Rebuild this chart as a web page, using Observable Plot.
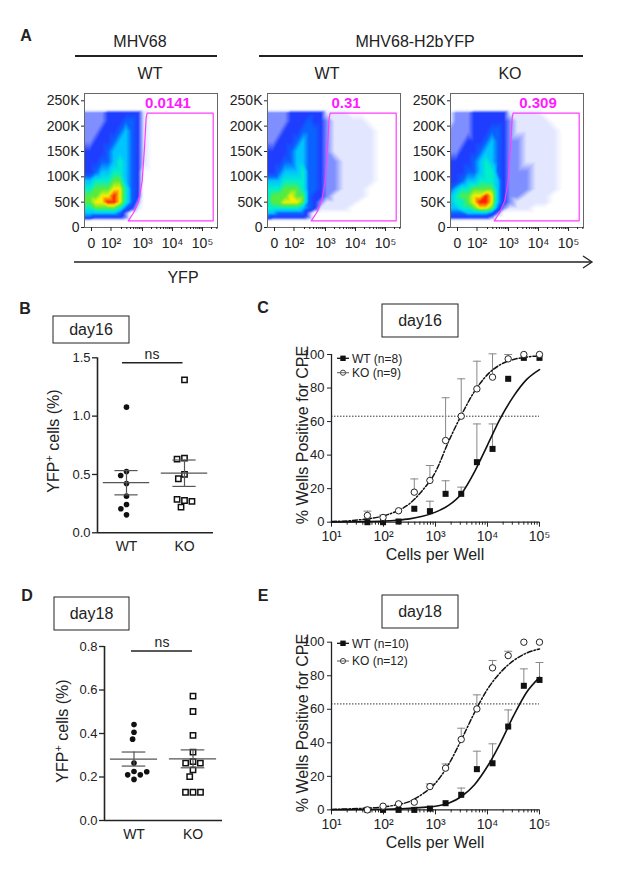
<!DOCTYPE html>
<html>
<head>
<meta charset="utf-8">
<script src="https://cdn.jsdelivr.net/npm/d3@7"></script>
<script src="https://cdn.jsdelivr.net/npm/@observablehq/plot@0.6"></script>
<style>
  body { margin: 0; background: #fff; }
  #fig { position: relative; width: 620px; height: 875px; overflow: hidden; background: #fff;
         font-family: "Liberation Sans", Arial, Helvetica, sans-serif; color: #222; }
</style>
</head>
<body>
<div id="fig"></div>
<script>
// ===================== DATA =====================
// Panel A – flow cytometry (x: YFP display decades, y: thousands), density level per grid node (0-9)
const flowCols = [1.07, 1.25, 1.45, 1.65, 1.85, 2.05, 2.25, 2.45, 2.65, 2.85, 3.05, 3.3, 3.6, 3.9, 4.2, 4.5, 4.8, 5.1, 5.5];
const flowRows = [264, 234, 226, 210, 190, 170, 150, 130, 110, 92, 76, 62, 50, 38, 28, 20, 12, 0];
const flowPanels = ["MHV68 WT", "MHV68-H2bYFP WT", "MHV68-H2bYFP KO"];
const densityMHV68WT = [
  "0000000000000000000",
  "0000000000000000000",
  "2222333333100000000",
  "2222333443100000000",
  "2223334543100000000",
  "2233345543100000000",
  "3333455543100000000",
  "3334456543100000000",
  "3345566543000000000",
  "5566677543000000000",
  "6677788643000000000",
  "7778898643000000000",
  "7788998642000000000",
  "6677776431000000000",
  "5555554200000000000",
  "4433333200000000000",
  "0000000000000000000",
  "0000000000000000000"
];
const densityYFPWT = [
  "0000000000000000000",
  "0000000000000000000",
  "2222333333111000000",
  "2222333433211110000",
  "2223334443211111000",
  "2233345443211111000",
  "3333455443211111000",
  "3334455443221111000",
  "3345556443221111000",
  "5556666443221111000",
  "6667776443221110000",
  "6777877433211110000",
  "6778887432111100000",
  "6666665431111000000",
  "5544444200000000000",
  "4333333200000000000",
  "0000000000000000000",
  "0000000000000000000"
];
const densityYFPKO = [
  "0000000000000000000",
  "0000000000000000000",
  "1222333333111100000",
  "1222333333211110000",
  "2222333443211111000",
  "2223334543221111000",
  "2233345543221111000",
  "3333456543221111000",
  "3334456643222111000",
  "3345566653222111000",
  "4566777753222111000",
  "5677889853221110000",
  "5667899853211110000",
  "5566788742111000000",
  "4445555420000000000",
  "3333333200000000000",
  "0000000000000000000",
  "0000000000000000000"
];
const gatePercent = ["0.0141", "0.31", "0.309"];
const gateX = [3.157, 5.357, 5.357, 2.523, 2.71, 2.877, 2.99, 3.067, 3.123, 3.157];
const gateY = [225.7, 225.7, 13.2, 13.2, 29.6, 52.7, 92.1, 157.9, 217, 225.7];
const flowXTicks = [1.3, 1.95, 3, 4, 5];
const flowXTickLabels = ["0", "10²", "10³", "10⁴", "10⁵"];
const flowYTicks = [0, 50, 100, 150, 200, 250];

// Panels B & D – YFP+ cells (%)
const groups = ["WT", "KO"];
const day16YFP_WT = [1.077, 0.526, 0.491, 0.423, 0.314, 0.243, 0.206, 0.154];
const day16YFP_KO = [1.311, 0.64, 0.631, 0.5, 0.463, 0.277, 0.286, 0.269, 0.22];
const day18YFP_WT = [0.441, 0.406, 0.374, 0.264, 0.225, 0.21, 0.189, 0.21, 0.224];
const day18YFP_KO = [0.572, 0.501, 0.391, 0.314, 0.271, 0.264, 0.264, 0.233, 0.202, 0.13, 0.13, 0.13];
const day16YTicks = [0, 0.5, 1.0, 1.5];
const day18YTicks = [0, 0.2, 0.4, 0.6, 0.8];

// Panels C & E – limiting dilution (% wells positive for CPE)
const cellsPerWell = [49, 98, 195, 391, 781, 1563, 3125, 6250, 12500, 25000, 50000, 100000];
const day16WT    = [0, 0, 0.4, 8.0, 6.6, 16.9, 16.9, 35.8, 43.7, 85.5, 98, 98];
const day16WTErr = [null, null, null, null, 12.5, 24.7, 20.9, 58.6, 58.6, null, null, null];
const day16KO    = [4.0, 2.8, 6.8, 17.9, 24.9, 48.7, 63.2, 79.5, 86.5, 97.4, 100, 100];
const day16KOErr = [6.6, 4.2, null, 25.8, 33.8, 74.2, 85.5, 96, 100.4, 100, null, null];
const day18WT    = [0, 0, 0, 0, 0.8, 4, 9, 24.3, 27.8, 49.7, 74, 77.5];
const day18WTErr = [null, null, null, null, null, null, 13, 35, 39.4, 59.6, 84.1, 87.9];
const day18KO    = [0, 2.2, 3.6, 4.6, 13.9, 24.9, 42, 60.2, 84.7, 92, 100, 100];
const day18KOErr = [null, null, null, null, 15.5, 27.4, 48.7, 68.6, 89.1, 94.6, null, null];
// fitted curves (x as log10 cells per well)
const fitLog10Cells = [1, 1.5, 2, 2.25, 2.5, 2.75, 3, 3.25, 3.5, 3.75, 4, 4.25, 4.5, 4.75, 5];
const fitDay16WT = [0.1, 0.3, 0.7, 1.2, 2, 3.5, 6, 10, 17, 30, 46, 62, 75, 85, 91];
const fitDay16KO = [0.4, 1.3, 3.8, 6.5, 11, 19, 30, 48, 64, 78, 88, 94, 97, 98.5, 99.2];
const fitDay18WT = [0.1, 0.2, 0.4, 0.6, 1, 1.5, 2.2, 4, 8, 15, 26, 40, 56, 70, 79];
const fitDay18KO = [0.3, 0.8, 1.8, 3, 5, 9.5, 16, 27, 42, 58, 72, 82, 89, 93.5, 96];
const poissonLine = [63.2];
const cpeXTicks = [10, 100, 1000, 10000, 100000];
const cpeXTickLabels = ["10¹", "10²", "10³", "10⁴", "10⁵"];
const cpeYTicks = [0, 20, 40, 60, 80, 100];
const legendDay16 = ["WT (n=8)", "KO (n=9)"];
const legendDay18 = ["WT (n=10)", "KO (n=12)"];

// ===================== DRAWING =====================
const FONT = '"Liberation Sans", Arial, Helvetica, sans-serif';
const INK = "#222";
const fig = document.getElementById("fig");
function place(el, left, top) {
  el.style.position = "absolute";
  el.style.left = left + "px";
  el.style.top = top + "px";
  fig.appendChild(el);
}
const baseStyle = {fontFamily: FONT, color: INK, background: "transparent", overflow: "visible"};

// ---- Panel A: flow plots ----
const flowPalette = ["#ffffff", "#e2e6ff", "#7f8fff", "#1f3dff", "#0a62ff", "#00c4ff", "#00eecc", "#55ec40", "#f6f000", "#ff2200"];
const flowLevels = d3.range(10);
const flowXLabel = new Map(flowXTicks.map((t, i) => [t, flowXTickLabels[i]]));
const flowMinor = [];
for (const d of [2, 3, 4, 5]) for (let k = 2; k <= 9; k++) { const u = d + Math.log10(k); if (u < 5.5) flowMinor.push(u); }
const gate = gateX.map((u, i) => ({u, y: gateY[i]}));

function flowPlot(grid, pct, labelDx) {
  const pts = [];
  grid.forEach((row, i) => [...row].forEach((ch, j) => pts.push({u: flowCols[j], y: flowRows[i], v: +ch})));
  return Plot.plot({
    width: 201, height: 174,
    marginLeft: 54, marginRight: 14, marginTop: 10, marginBottom: 30,
    x: {domain: [1.067, 5.5], axis: null},
    y: {domain: [0, 264.4], axis: null},
    color: {type: "linear", domain: flowLevels, range: flowPalette, interpolate: "rgb"},
    style: baseStyle,
    marks: [
      Plot.raster(pts, {x: "u", y: "y", fill: "v", interpolate: "barycentric", pixelSize: 1}),
      Plot.line(gate, {x: "u", y: "y", stroke: "#ff3cff", strokeWidth: 1.2}),
      Plot.frame({stroke: "#666"}),
      Plot.axisY({ticks: flowYTicks, tickFormat: d => d === 0 ? "0" : d + "K", tickSize: 3, tickPadding: 2, fontSize: 14, label: null}),
      Plot.axisX({ticks: flowXTicks, tickFormat: d => flowXLabel.get(d), tickSize: 4, tickPadding: 7, fontSize: 14, label: null}),
      Plot.axisX({ticks: flowMinor, tickFormat: () => "", tickSize: 2, label: null}),
      Plot.text([pct], {frameAnchor: "top", dx: labelDx, dy: 4, fill: "#ff1aff", fontWeight: "bold", fontSize: 15})
    ]
  });
}
const flowGrids = [densityMHV68WT, densityYFPWT, densityYFPKO];
const flowFrameLeft = [84, 267, 450];
const flowLabelDx = [17, 12, 21];
flowPanels.forEach((name, i) => {
  place(flowPlot(flowGrids[i], gatePercent[i], flowLabelDx[i]), flowFrameLeft[i] - 54, 83);
});

// ---- Panels B & D: scatter with mean ± SEM ----
function dotPlot(wt, ko, yMax, yTicks, dims) {
  const data = [...wt.map(v => ({group: "WT", v})), ...ko.map(v => ({group: "KO", v}))];
  const stats = groups.map(g => {
    const vs = data.filter(d => d.group === g).map(d => d.v);
    const m = d3.mean(vs), se = d3.deviation(vs) / Math.sqrt(vs.length);
    return {group: g, mean: m, lo: m - se, hi: m + se};
  });
  return Plot.plot({
    width: dims.width, height: dims.height,
    marginLeft: dims.ml, marginRight: 10, marginTop: dims.mt, marginBottom: 30,
    fx: {domain: groups, padding: 0},
    x: {domain: [-1, 1], axis: null},
    y: {domain: [0, yMax], axis: null},
    style: baseStyle,
    marks: [
      Plot.ruleY([0], {stroke: INK, strokeWidth: 1.6}),
      Plot.ruleX([-1], {y1: 0, y2: yMax, stroke: INK, strokeWidth: 1.6, facetAnchor: "left"}),
      Plot.axisY({ticks: yTicks, tickFormat: ".1f", tickSize: 5, tickPadding: 2, fontSize: 13, strokeWidth: 1.3, label: null}),
      Plot.axisFx({anchor: "bottom", tickSize: 0, tickPadding: dims.fxPad, fontSize: 14, label: null}),
      Plot.dot(data.filter(d => d.group === "WT"),
        Plot.dodgeX({anchor: "middle", padding: 1.5}, {fx: "group", y: "v", r: 2.8, fill: "#111", symbol: "circle"})),
      Plot.dot(data.filter(d => d.group === "KO"),
        Plot.dodgeX({anchor: "middle", padding: 1.5}, {fx: "group", y: "v", r: 3, symbol: "square", fill: "white", stroke: "#111", strokeWidth: 1.5})),
      Plot.ruleY(stats, {fx: "group", y: "mean", x1: -0.8, x2: 0.8, stroke: "#555", strokeWidth: 1.2}),
      Plot.ruleY(stats, {fx: "group", y: "lo", x1: -0.4, x2: 0.4, stroke: "#555", strokeWidth: 1.2}),
      Plot.ruleY(stats, {fx: "group", y: "hi", x1: -0.4, x2: 0.4, stroke: "#555", strokeWidth: 1.2}),
      Plot.ruleX(stats, {fx: "group", x: 0, y1: "lo", y2: "hi", stroke: "#555", strokeWidth: 1.2})
    ]
  });
}
place(dotPlot(day16YFP_WT, day16YFP_KO, 1.5, day16YTicks, {width: 183, height: 217.3, ml: 56, mt: 12.3, fxPad: 8}), 40, 345);
place(dotPlot(day18YFP_WT, day18YFP_KO, 0.8, day18YTicks, {width: 192, height: 214, ml: 64, mt: 10, fxPad: 9}), 40, 636);

// ---- Panels C & E: limiting dilution ----
const capSymbol = {draw(ctx, size) { const w = Math.sqrt(size / Math.PI); ctx.moveTo(-w, 0); ctx.lineTo(w, 0); }};
const cpeXLabel = new Map(cpeXTicks.map((t, i) => [t, cpeXTickLabels[i]]));
const cpeMinor = [];
for (const p of [10, 100, 1000, 10000]) for (let k = 2; k <= 9; k++) cpeMinor.push(k * p);

function cpePlot(wt, wtErr, ko, koErr, fitWT, fitKO, mt) {
  const wtRows = cellsPerWell.map((c, i) => ({c, y: wt[i], e: wtErr[i]}));
  const koRows = cellsPerWell.map((c, i) => ({c, y: ko[i], e: koErr[i]}));
  const wtE = wtRows.filter(d => d.e != null), koE = koRows.filter(d => d.e != null);
  const fW = fitLog10Cells.map((l, i) => ({c: 10 ** l, y: fitWT[i]}));
  const fK = fitLog10Cells.map((l, i) => ({c: 10 ** l, y: fitKO[i]}));
  return Plot.plot({
    width: 259, height: mt + 167.7 + 25,
    marginLeft: 31, marginRight: 20, marginTop: mt, marginBottom: 25,
    x: {type: "log", domain: [10, 100000], axis: null},
    y: {domain: [0, 100], axis: null},
    style: baseStyle,
    marks: [
      Plot.ruleY(poissonLine, {stroke: "#333", strokeWidth: 1, strokeDasharray: "1.5,1.5"}),
      Plot.ruleX([10], {y1: 0, y2: 100, stroke: INK, strokeWidth: 1.3}),
      Plot.ruleY([0], {stroke: INK, strokeWidth: 1.3}),
      Plot.axisY({ticks: cpeYTicks, tickSize: 4, tickPadding: 3, fontSize: 13, label: null}),
      Plot.axisX({ticks: cpeXTicks, tickFormat: d => cpeXLabel.get(d), tickSize: 5, tickPadding: 4, fontSize: 14, label: null}),
      Plot.axisX({ticks: cpeMinor, tickFormat: () => "", tickSize: 3, label: null}),
      Plot.ruleX(wtE, {x: "c", y1: "y", y2: "e", stroke: "#888", strokeWidth: 1}),
      Plot.dot(wtE, {x: "c", y: "e", symbol: capSymbol, r: 4, fill: "none", stroke: "#888", strokeWidth: 1}),
      Plot.ruleX(koE, {x: "c", y1: "y", y2: "e", stroke: "#888", strokeWidth: 1}),
      Plot.dot(koE, {x: "c", y: "e", symbol: capSymbol, r: 4, fill: "none", stroke: "#888", strokeWidth: 1}),
      Plot.line(fW, {x: "c", y: "y", curve: "monotone-x", stroke: "#111", strokeWidth: 1.6}),
      Plot.line(fK, {x: "c", y: "y", curve: "monotone-x", stroke: "#111", strokeWidth: 1.5, strokeDasharray: "5,2,1.5,2"}),
      Plot.dot(wtRows, {x: "c", y: "y", symbol: "square", r: 3.4, fill: "#111"}),
      Plot.dot(koRows, {x: "c", y: "y", r: 3.2, fill: "white", stroke: "#222", strokeWidth: 1})
    ]
  });
}
place(cpePlot(day16WT, day16WTErr, day16KO, day16KOErr, fitDay16WT, fitDay16KO, 14), 300, 340);
place(cpePlot(day18WT, day18WTErr, day18KO, day18KOErr, fitDay18WT, fitDay18KO, 13.7), 300, 628);

// ---- annotations overlay ----
function legend(x, y1, y2, labels) {
  return `
  <line x1="${x - 6}" x2="${x + 6}" y1="${y1}" y2="${y1}" stroke="#111" stroke-width="1.3"/>
  <rect x="${x - 2.7}" y="${y1 - 2.7}" width="5.4" height="5.4" fill="#111"/>
  <text x="${x + 9}" y="${y1 + 4.3}" font-size="12">${labels[0]}</text>
  <line x1="${x - 6}" x2="${x + 6}" y1="${y2}" y2="${y2}" stroke="#666" stroke-width="1.1"/>
  <circle cx="${x}" cy="${y2}" r="2.6" fill="white" stroke="#444" stroke-width="1"/>
  <line x1="${x - 2}" x2="${x + 2}" y1="${y2}" y2="${y2}" stroke="#666" stroke-width="1"/>
  <text x="${x + 9}" y="${y2 + 4.3}" font-size="12">${labels[1]}</text>`;
}
function yfpTitle(cx, cy) {
  return `<text transform="translate(${cx},${cy}) rotate(-90)" text-anchor="middle" dy="0.36em" font-size="16">YFP<tspan dy="-6" font-size="11">+</tspan><tspan dy="6"> cells (%)</tspan></text>`;
}
function cpeTitle(cx, cy) {
  return `<text transform="translate(${cx},${cy}) rotate(-90)" text-anchor="middle" dy="0.36em" font-size="16">% Wells Positive for CPE</text>`;
}
fig.insertAdjacentHTML("beforeend", `
<svg width="620" height="875" style="position:absolute;left:0;top:0;pointer-events:none;font-family:${FONT.replace(/"/g, "'")}" fill="${INK}">
  <g font-weight="bold" font-size="16">
    <text x="26" y="41" text-anchor="middle">A</text>
    <text x="25" y="314" text-anchor="middle">B</text>
    <text x="263" y="313" text-anchor="middle">C</text>
    <text x="27" y="601" text-anchor="middle">D</text>
    <text x="263" y="601" text-anchor="middle">E</text>
  </g>
  <g font-size="16" text-anchor="middle">
    <text x="140" y="47">MHV68</text>
    <text x="415" y="47">MHV68-H2bYFP</text>
    <text x="150" y="79">WT</text>
    <text x="327" y="79">WT</text>
    <text x="510" y="79">KO</text>
    <text x="183" y="283">YFP</text>
  </g>
  <line x1="75" x2="217" y1="56" y2="56" stroke="${INK}" stroke-width="2"/>
  <line x1="259" x2="583" y1="56" y2="56" stroke="${INK}" stroke-width="2"/>
  <line x1="74" x2="591" y1="262" y2="262" stroke="${INK}" stroke-width="1.3"/>
  <polyline points="583,256 592,262 583,268" fill="none" stroke="${INK}" stroke-width="1.3"/>

  <rect x="53" y="316" width="76" height="27" fill="none" stroke="${INK}" stroke-width="1"/>
  <text x="91" y="335" font-size="16" text-anchor="middle">day16</text>
  <text x="152" y="359" font-size="14" text-anchor="middle">ns</text>
  <line x1="122" x2="182.5" y1="362.7" y2="362.7" stroke="${INK}" stroke-width="1.5"/>
  ${yfpTitle(53, 441)}

  <rect x="382" y="304" width="76" height="33" fill="none" stroke="${INK}" stroke-width="1"/>
  <text x="420" y="326" font-size="16" text-anchor="middle">day16</text>
  ${cpeTitle(302, 435)}
  <text x="435" y="560" font-size="16" text-anchor="middle">Cells per Well</text>
  ${legend(343, 358.3, 372.7, legendDay16)}

  <rect x="54" y="597" width="75" height="33" fill="none" stroke="${INK}" stroke-width="1"/>
  <text x="91.5" y="619" font-size="16" text-anchor="middle">day18</text>
  <text x="162" y="647" font-size="14" text-anchor="middle">ns</text>
  <line x1="131" x2="192" y1="651" y2="651" stroke="${INK}" stroke-width="1.5"/>
  ${yfpTitle(62, 731)}

  <rect x="382" y="595" width="76" height="33" fill="none" stroke="${INK}" stroke-width="1"/>
  <text x="420" y="617" font-size="16" text-anchor="middle">day18</text>
  ${cpeTitle(302, 723)}
  <text x="435" y="848" font-size="16" text-anchor="middle">Cells per Well</text>
  ${legend(343, 643.3, 661, legendDay18)}
</svg>`);
</script>
</body>
</html>
